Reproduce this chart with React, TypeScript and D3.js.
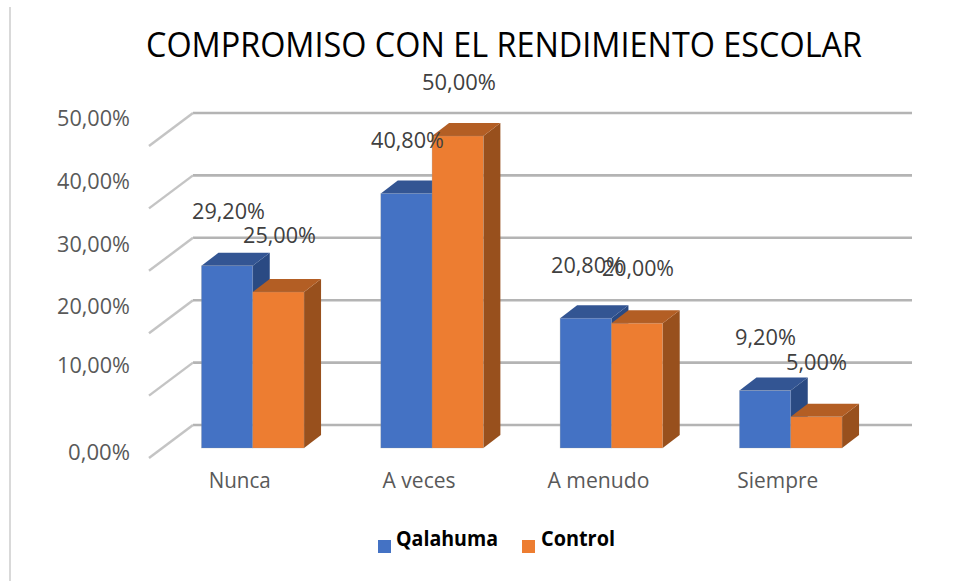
import React from "react";
import * as d3 from "d3";

const categories = ["Nunca", "A veces", "A menudo", "Siempre"];
const qalahuma = [29.2, 40.8, 20.8, 9.2];
const control = [25, 50, 20, 5];
const ticks = [0, 10, 20, 30, 40, 50];
const seriesNames = ["Qalahuma", "Control"];
const title = "COMPROMISO CON EL RENDIMIENTO ESCOLAR";

const FONT = "'Open Sans', 'Noto Sans', sans-serif";
const fmt = (v: number) => v.toFixed(2).replace(".", ",") + "%";

const colors = [
  { front: "#4472c4", top: "#335593", side: "#2a4a83" },
  { front: "#ed7d31", top: "#b35e24", side: "#98501d" },
];

// Text placement (Excel's layout, not regular)
const tickLabelBaseline: Record<number, number> = { 0: 460, 10: 373, 20: 314, 30: 252, 40: 189, 50: 126 };
const catLabelWidth = [62, 73, 102, 81];
const legendX = [396, 541];
const legendW = [102, 74];
const legendSq = [378, 522];

export default function App() {
  const y = d3.scaleLinear().domain([0, 50]).range([448, 136]);
  const x = d3.scalePoint<string>().domain(categories).range([252.75, 790.75]);
  const barW = 51.3;
  const dx = 17;
  const dy = 13;
  const wallTop = (v: number) => y(v) - 23;
  const bars = (s: number, vals: number[]) =>
    vals.map((v, i) => {
      const x0 = (x(categories[i]) as number) - barW + s * barW;
      const yt = y(v);
      const yb = y(0);
      const col = colors[s];
      return (
        <g key={`${s}-${i}`}>
          <polygon points={`${x0 + barW},${yt} ${x0 + barW + dx},${yt - dy} ${x0 + barW + dx},${yb - dy} ${x0 + barW},${yb}`} fill={col.side} />
          <polygon points={`${x0},${yt} ${x0 + dx},${yt - dy} ${x0 + barW + dx},${yt - dy} ${x0 + barW},${yt}`} fill={col.top} />
          <rect x={x0} y={yt} width={barW} height={yb - yt} fill={col.front} stroke="#999" strokeOpacity={0.35} strokeWidth={0.7} />
        </g>
      );
    });

  const labels = [
    { t: fmt(qalahuma[0]), x: 228.5, y: 219, w: 73 },
    { t: fmt(control[0]), x: 279.5, y: 243, w: 73 },
    { t: fmt(qalahuma[1]), x: 407.5, y: 148, w: 73 },
    { t: fmt(control[1]), x: 459, y: 90, w: 74 },
    { t: fmt(qalahuma[2]), x: 587.5, y: 273, w: 73 },
    { t: fmt(control[2]), x: 638, y: 276, w: 72 },
    { t: fmt(qalahuma[3]), x: 765.5, y: 345, w: 61 },
    { t: fmt(control[3]), x: 816.5, y: 370, w: 61 },
  ];

  return (
    <svg width={963} height={581} style={{ position: "absolute", left: 0, top: 0, background: "#fff" }}>
      <line x1={10} y1={7} x2={10} y2={581} stroke="#d9d9d9" strokeWidth={2} />
      <text x={504} y={57} textAnchor="middle" fontFamily={FONT} fontSize={35} fill="#000" textLength={716} lengthAdjust="spacingAndGlyphs">{title}</text>

      {ticks.map((t) => (
        <g key={t}>
          <line x1={193} x2={912} y1={wallTop(t)} y2={wallTop(t)} stroke="#b4b4b4" strokeWidth={2.6} />
          <line x1={149} x2={193} y1={wallTop(t) + 33} y2={wallTop(t)} stroke="#c4c4c4" strokeWidth={2.4} />
          <text x={130} y={tickLabelBaseline[t]} textAnchor="end" fontFamily={FONT} fontSize={22} fill="#595959" textLength={t === 0 ? 62 : 73} lengthAdjust="spacingAndGlyphs">{fmt(t)}</text>
        </g>
      ))}

      {bars(0, qalahuma)}
      {bars(1, control)}

      {labels.map((l) => (
        <text key={l.x} x={l.x} y={l.y} textAnchor="middle" fontFamily={FONT} fontSize={22} fill="#404040" textLength={l.w} lengthAdjust="spacingAndGlyphs">{l.t}</text>
      ))}

      {categories.map((c, i) => (
        <text key={c} x={(x(c) as number) - 13} y={488} textAnchor="middle" fontFamily={FONT} fontSize={21} fill="#595959" textLength={catLabelWidth[i]} lengthAdjust="spacingAndGlyphs">{c}</text>
      ))}

      {seriesNames.map((s, i) => (
        <g key={s}>
          <rect x={legendSq[i]} y={540} width={13} height={13} fill={colors[i].front} />
          <text x={legendX[i]} y={546} fontFamily={FONT} fontSize={22} fontWeight={700} fill="#000" textLength={legendW[i]} lengthAdjust="spacingAndGlyphs">{s}</text>
        </g>
      ))}
    </svg>
  );
}
